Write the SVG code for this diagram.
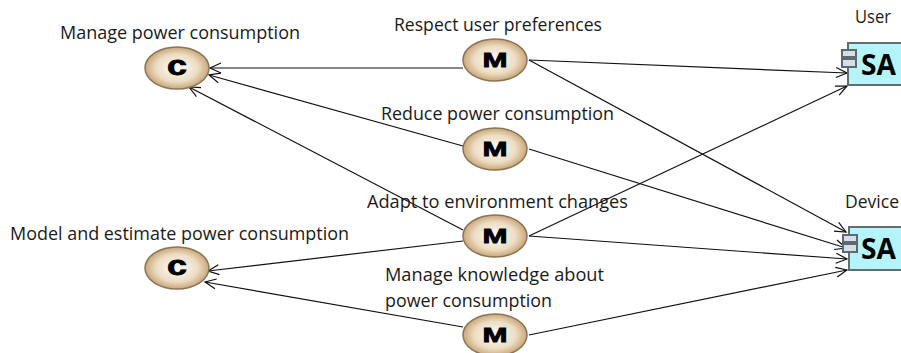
<svg xmlns="http://www.w3.org/2000/svg" width="901" height="353" viewBox="0 0 901 353">
<style>
text{font-family:"Open Sans","Noto Sans","Liberation Sans",sans-serif;font-size:18px;fill:#1a1a1a}
.c{fill:none;stroke:#111;stroke-width:1.2;marker-end:url(#a)}
.e{fill:url(#g);stroke:#8a7556;stroke-width:1.5}
.l{font-family:"Liberation Sans",sans-serif;font-weight:bold;fill:#000;stroke:#000;stroke-width:.8;text-anchor:middle;font-size:20px}
.lc{font-size:27px}
.sa{font-family:"Open Sans","Liberation Sans",sans-serif;font-weight:bold;font-size:28px;fill:#000}
.b{fill:#b5f4fb;stroke:#5f6f70;stroke-width:2}
.p{fill:#d5dfe8;stroke:#5f6a70;stroke-width:2}
</style>
<defs>
<radialGradient id="g" cx="50%" cy="50%" r="55%"><stop offset="0" stop-color="#fffefb"/><stop offset=".6" stop-color="#ecdcc2"/><stop offset="1" stop-color="#bf9663"/></radialGradient>
<marker id="a" markerWidth="14" markerHeight="12" refX="12" refY="6" orient="auto" markerUnits="userSpaceOnUse"><path d="M1 1L12 6L1 11" fill="none" stroke="#111" stroke-width="1.2"/></marker>
</defs>
<g id="connectors">
<path class="c" d="M463 68L210 68"/>
<path class="c" d="M463 146L209 75"/>
<path class="c" d="M463 230L189 87"/>
<path class="c" d="M463 241L208 271"/>
<path class="c" d="M463 327L205 282"/>
<path class="c" d="M529 60L847 73"/>
<path class="c" d="M529 60L846 232"/>
<path class="c" d="M529 149L846 248"/>
<path class="c" d="M529 236L847 259"/>
<path class="c" d="M529 236L847 86"/>
<path class="c" d="M529 335L847 270"/>
</g>
<g id="c1"><ellipse class="e" cx="177" cy="68" rx="32" ry="21"/><text class="l lc" x="177" y="75" textLength="20" lengthAdjust="spacingAndGlyphs">c</text><text x="60" y="39" textLength="240" lengthAdjust="spacingAndGlyphs">Manage power consumption</text></g>
<g id="c2"><ellipse class="e" cx="177" cy="268" rx="32" ry="21"/><text class="l lc" x="177" y="275" textLength="20" lengthAdjust="spacingAndGlyphs">c</text><text x="10" y="240" textLength="339" lengthAdjust="spacingAndGlyphs">Model and estimate power consumption</text></g>
<g id="m1"><ellipse class="e" cx="495" cy="60" rx="32" ry="21"/><text class="l" x="495" y="67" textLength="25" lengthAdjust="spacingAndGlyphs">M</text><text x="394" y="31" textLength="208" lengthAdjust="spacingAndGlyphs">Respect user preferences</text></g>
<g id="m2"><ellipse class="e" cx="495" cy="149" rx="32" ry="21"/><text class="l" x="495" y="156" textLength="25" lengthAdjust="spacingAndGlyphs">M</text><text x="381" y="120" textLength="233" lengthAdjust="spacingAndGlyphs">Reduce power consumption</text></g>
<g id="m3"><ellipse class="e" cx="495" cy="236" rx="32" ry="21"/><text class="l" x="495" y="243" textLength="25" lengthAdjust="spacingAndGlyphs">M</text><text x="367" y="208" textLength="261" lengthAdjust="spacingAndGlyphs">Adapt to environment changes</text></g>
<g id="m4"><ellipse class="e" cx="495" cy="335" rx="32" ry="21"/><text class="l" x="495" y="342" textLength="25" lengthAdjust="spacingAndGlyphs">M</text><text x="385" y="281" textLength="219" lengthAdjust="spacingAndGlyphs">Manage knowledge about</text><text x="385" y="307" textLength="167" lengthAdjust="spacingAndGlyphs">power consumption</text></g>
<g id="sa1"><rect class="b" x="848" y="43" width="60" height="42"/><rect class="p" x="842" y="50" width="14" height="7"/><rect class="p" x="842" y="59" width="14" height="8"/><text class="sa" x="861" y="75" textLength="35" lengthAdjust="spacingAndGlyphs">SA</text><text x="855" y="23" textLength="36" lengthAdjust="spacingAndGlyphs">User</text></g>
<g id="sa2"><rect class="b" x="849" y="227" width="60" height="43"/><rect class="p" x="843" y="235" width="14" height="7"/><rect class="p" x="843" y="244" width="14" height="8"/><text class="sa" x="861" y="259" textLength="35" lengthAdjust="spacingAndGlyphs">SA</text><text x="845" y="208" textLength="54" lengthAdjust="spacingAndGlyphs">Device</text></g>
</svg>
